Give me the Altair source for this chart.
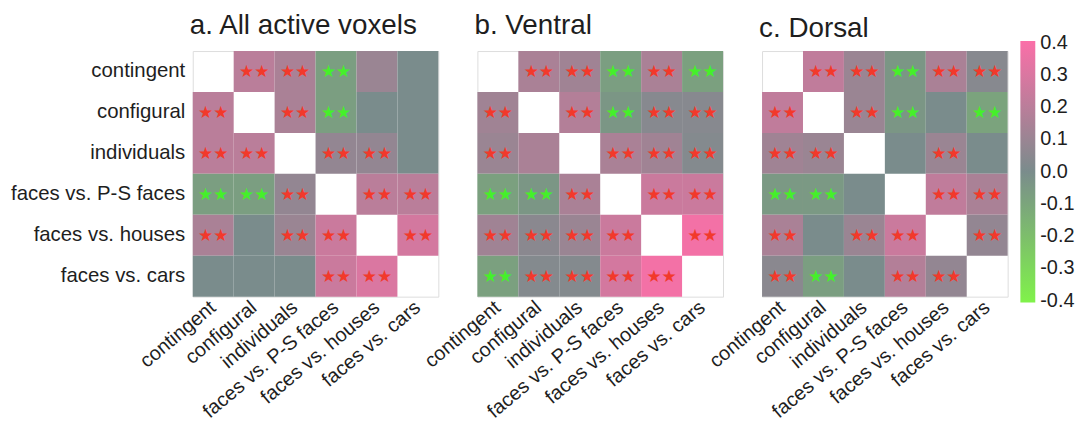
import altair as alt
import pandas as pd

conditions = [
    "contingent",
    "configural",
    "individuals",
    "faces vs. P-S faces",
    "faces vs. houses",
    "faces vs. cars",
]

# Correlation matrices (row condition x column condition); None = not drawn
all_active_r = [
    [None, 0.20, 0.15, -0.07, 0.10, 0.00],
    [0.20, None, 0.15, -0.07, 0.00, 0.00],
    [0.20, 0.20, None, 0.08, 0.08, 0.00],
    [-0.07, -0.07, 0.08, None, 0.20, 0.20],
    [0.15, 0.00, 0.10, 0.25, None, 0.28],
    [0.00, 0.00, 0.00, 0.25, 0.30, None],
]
all_active_sig = [
    [0, 1, 1, 1, 0, 0],
    [1, 0, 1, 1, 0, 0],
    [1, 1, 0, 1, 1, 0],
    [1, 1, 1, 0, 1, 1],
    [1, 0, 1, 1, 0, 1],
    [0, 0, 0, 1, 1, 0],
]

ventral_r = [
    [None, 0.15, 0.12, -0.07, 0.15, -0.08],
    [0.12, None, 0.18, -0.04, 0.04, 0.04],
    [0.10, 0.15, None, 0.15, 0.12, 0.03],
    [-0.08, -0.04, 0.15, None, 0.25, 0.25],
    [0.12, 0.05, 0.10, 0.25, None, 0.38],
    [-0.08, 0.03, 0.03, 0.28, 0.38, None],
]
ventral_sig = [
    [0, 1, 1, 1, 1, 1],
    [1, 0, 1, 1, 1, 1],
    [1, 0, 0, 1, 1, 1],
    [1, 1, 1, 0, 1, 1],
    [1, 1, 1, 1, 0, 1],
    [1, 1, 1, 1, 1, 0],
]

dorsal_r = [
    [None, 0.22, 0.10, -0.04, 0.15, 0.04],
    [0.22, None, 0.10, -0.04, 0.00, -0.09],
    [0.12, 0.10, None, 0.00, 0.10, 0.00],
    [-0.05, -0.05, 0.00, None, 0.22, 0.15],
    [0.15, 0.00, 0.10, 0.25, None, 0.08],
    [0.05, -0.07, 0.00, 0.18, 0.08, None],
]
dorsal_sig = [
    [0, 1, 1, 1, 1, 1],
    [1, 0, 1, 1, 0, 1],
    [1, 1, 0, 0, 1, 0],
    [1, 1, 0, 0, 1, 1],
    [1, 0, 1, 1, 0, 1],
    [1, 1, 0, 1, 1, 0],
]

colorbar_ticks = [0.4, 0.3, 0.2, 0.1, 0.0, -0.1, -0.2, -0.3, -0.4]

FONT = "Liberation Sans"
TEXT = "#1e1e1e"
CELL = 41.2

color_scale = alt.Scale(
    domain=[-0.405, 0.0, 0.405],
    range=["#80f24a", "#7a8c8c", "#fb6fa8"],
    interpolate="rgb",
)


def to_frame(values, sig):
    rows = []
    for i, rname in enumerate(conditions):
        for j, cname in enumerate(conditions):
            v = values[i][j]
            if v is None:
                continue
            rows.append(
                {
                    "row": rname,
                    "col": cname,
                    "r": v,
                    "stars": "\u2605\u2605" if sig[i][j] else "",
                    "sign": "pos" if v >= 0 else "neg",
                }
            )
    return pd.DataFrame(rows)


def panel(values, sig, title, show_rows, show_legend, title_dy=0):
    df = to_frame(values, sig)
    x = alt.X(
        "col:N",
        sort=conditions,
        scale=alt.Scale(domain=conditions, paddingInner=0, paddingOuter=0),
        axis=alt.Axis(
            title=None,
            labelAngle=-40,
            labelAlign="right",
            labelBaseline="middle",
            labelFontSize=20,
            labelFont=FONT,
            labelColor=TEXT,
            labelPadding=8,
            domain=False,
            ticks=False,
            labelLimit=300,
        ),
    )
    if show_rows:
        yaxis = alt.Axis(
            title=None,
            labelFontSize=20.5,
            labelFont=FONT,
            labelColor=TEXT,
            labelPadding=8,
            domain=False,
            ticks=False,
            labelLimit=300,
        )
    else:
        yaxis = None
    y = alt.Y(
        "row:N",
        sort=conditions,
        scale=alt.Scale(domain=conditions, paddingInner=0, paddingOuter=0),
        axis=yaxis,
    )
    if show_legend:
        legend = alt.Legend(
            orient="none",
            legendX=260,
            legendY=-10,
            direction="vertical",
            gradientLength=263,
            gradientThickness=15,
            gradientStrokeWidth=0,
            values=colorbar_ticks,
            labelFontSize=20,
            labelFont=FONT,
            labelColor=TEXT,
            labelAlign="right",
            labelBaseline="middle",
            labelOffset=5,
            labelOverlap=False,
            labelExpr="replace(format(datum.value, '.1f'), '\u2212', '-')",
        )
    else:
        legend = None

    cells = alt.Chart(df).mark_rect().encode(
        x=x,
        y=y,
        color=alt.Color("r:Q", scale=color_scale, legend=legend, title=None),
    )
    marks = alt.Chart(df).mark_text(
        font="DejaVu Sans", fontSize=17, baseline="middle", align="center", dy=1
    ).encode(
        x=alt.X("col:N", sort=conditions),
        y=alt.Y("row:N", sort=conditions),
        text="stars:N",
        fill=alt.Fill(
            "sign:N",
            scale=alt.Scale(domain=["pos", "neg"], range=["#f2392b", "#45f02a"]),
            legend=None,
        ),
    )
    return (cells + marks).properties(
        width=6 * CELL,
        height=6 * CELL,
        title=alt.Title(
            title,
            anchor="start",
            frame="group",
            fontSize=28,
            font=FONT,
            fontWeight="normal",
            color=TEXT,
            offset=11,
            dx=-3,
            dy=title_dy,
        ),
    )


chart = (
    alt.hconcat(
        panel(all_active_r, all_active_sig, "a. All active voxels", True, False),
        panel(ventral_r, ventral_sig, "b. Ventral", False, False),
        panel(dorsal_r, dorsal_sig, "c. Dorsal", False, True, title_dy=12.5),
        spacing=38.5,
        bounds="flush",
    )
    .resolve_scale(color="independent", fill="independent")
    .properties(padding={"left": 10, "top": 10, "right": 2, "bottom": 1})
    .configure_view(stroke=None)
    .configure(background="white")
)

chart.save("out.html", embed_options={"renderer": "svg", "actions": False})
